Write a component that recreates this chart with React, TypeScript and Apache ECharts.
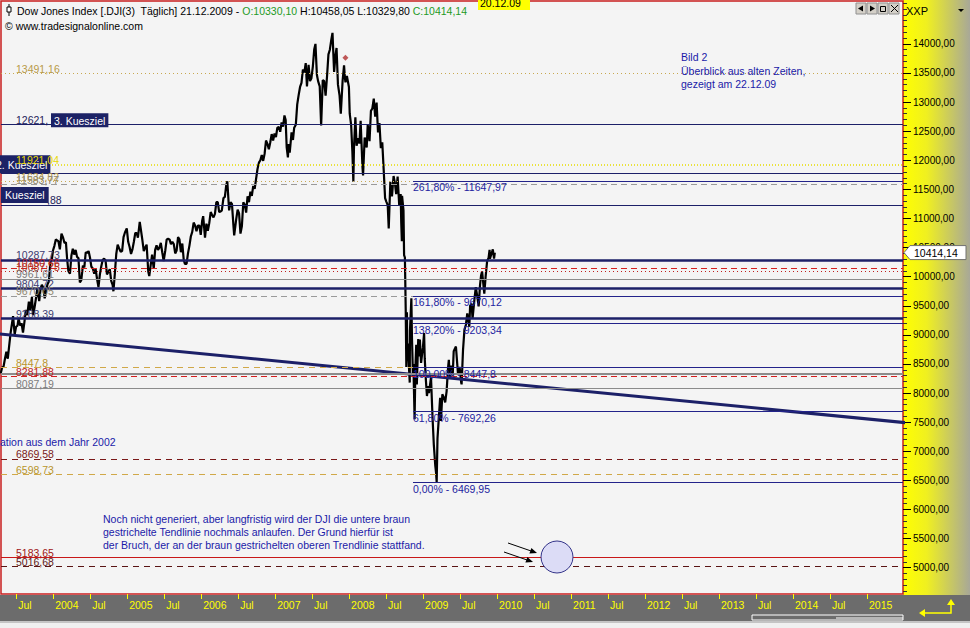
import React, { useEffect, useRef } from "react";
import * as echarts from "echarts";

type P = [string, number];

// ---- price data (Dow Jones, roughly weekly) ----
const dji2003: P[] = [
  ["2003-04-17", 8337], ["2003-04-24", 8440], ["2003-05-01", 8455], ["2003-05-08", 8590], ["2003-05-15", 8710],
  ["2003-05-22", 8590], ["2003-05-30", 8850], ["2003-06-05", 9040], ["2003-06-12", 9200], ["2003-06-17", 9323],
  ["2003-06-25", 9010], ["2003-07-02", 9140], ["2003-07-09", 9160], ["2003-07-14", 9280], ["2003-07-22", 9160],
  ["2003-07-29", 9200], ["2003-08-05", 9040], ["2003-08-12", 9220], ["2003-08-19", 9430], ["2003-08-26", 9340],
  ["2003-09-03", 9570], ["2003-09-09", 9420], ["2003-09-18", 9650], ["2003-09-24", 9340], ["2003-10-01", 9470],
  ["2003-10-08", 9630], ["2003-10-15", 9800], ["2003-10-24", 9580], ["2003-10-31", 9800], ["2003-11-06", 9860],
  ["2003-11-13", 9810], ["2003-11-20", 9630], ["2003-11-28", 9780], ["2003-12-04", 9870], ["2003-12-11", 9920],
  ["2003-12-18", 10250], ["2003-12-26", 10310], ["2003-12-31", 10450],
];
const dji2004: P[] = [
  ["2004-01-07", 10530], ["2004-01-14", 10640], ["2004-01-21", 10620], ["2004-01-27", 10610], ["2004-02-03", 10470],
  ["2004-02-11", 10740], ["2004-02-19", 10670], ["2004-02-26", 10580], ["2004-03-04", 10590], ["2004-03-10", 10300],
  ["2004-03-16", 10100], ["2004-03-24", 10050], ["2004-03-31", 10360], ["2004-04-07", 10480], ["2004-04-14", 10380],
  ["2004-04-21", 10460], ["2004-04-28", 10340], ["2004-05-05", 10320], ["2004-05-12", 9900], ["2004-05-19", 9940],
  ["2004-05-27", 10190], ["2004-06-03", 10160], ["2004-06-10", 10420], ["2004-06-17", 10410], ["2004-06-24", 10440],
  ["2004-07-01", 10330], ["2004-07-08", 10170], ["2004-07-15", 10140], ["2004-07-22", 10050], ["2004-07-29", 10130],
  ["2004-08-05", 9960], ["2004-08-12", 9820], ["2004-08-19", 10040], ["2004-08-26", 10180], ["2004-09-02", 10290],
  ["2004-09-09", 10310], ["2004-09-16", 10280], ["2004-09-23", 10040], ["2004-09-30", 10080], ["2004-10-07", 10130],
  ["2004-10-14", 9930], ["2004-10-21", 9860], ["2004-10-25", 9750], ["2004-11-01", 10050], ["2004-11-08", 10390],
  ["2004-11-15", 10550], ["2004-11-22", 10490], ["2004-11-30", 10430], ["2004-12-07", 10440], ["2004-12-14", 10680],
  ["2004-12-21", 10760], ["2004-12-30", 10830],
];
const dji2005: P[] = [
  ["2005-01-06", 10600], ["2005-01-13", 10510], ["2005-01-20", 10390], ["2005-01-27", 10470], ["2005-02-03", 10600],
  ["2005-02-10", 10750], ["2005-02-17", 10750], ["2005-02-23", 10670], ["2005-03-04", 10940], ["2005-03-10", 10800],
  ["2005-03-17", 10630], ["2005-03-24", 10440], ["2005-03-31", 10500], ["2005-04-07", 10550], ["2005-04-15", 10090],
  ["2005-04-20", 10010], ["2005-04-27", 10200], ["2005-05-04", 10380], ["2005-05-12", 10140], ["2005-05-19", 10460],
  ["2005-05-26", 10540], ["2005-06-02", 10460], ["2005-06-09", 10500], ["2005-06-16", 10580], ["2005-06-23", 10420],
  ["2005-06-30", 10270], ["2005-07-08", 10450], ["2005-07-15", 10640], ["2005-07-22", 10650], ["2005-07-29", 10640],
  ["2005-08-05", 10560], ["2005-08-12", 10600], ["2005-08-19", 10560], ["2005-08-26", 10400], ["2005-09-02", 10450],
  ["2005-09-09", 10680], ["2005-09-16", 10640], ["2005-09-23", 10420], ["2005-09-30", 10570], ["2005-10-07", 10290],
  ["2005-10-13", 10220], ["2005-10-21", 10220], ["2005-10-28", 10400], ["2005-11-04", 10530], ["2005-11-11", 10690],
  ["2005-11-18", 10770], ["2005-11-25", 10930], ["2005-12-02", 10880], ["2005-12-09", 10780], ["2005-12-16", 10880],
  ["2005-12-23", 10880], ["2005-12-30", 10720],
];
const dji2006: P[] = [
  ["2006-01-06", 10960], ["2006-01-11", 11040], ["2006-01-20", 10670], ["2006-01-27", 10910], ["2006-02-03", 10790],
  ["2006-02-10", 10920], ["2006-02-17", 11110], ["2006-02-24", 11060], ["2006-03-03", 11020], ["2006-03-10", 11080],
  ["2006-03-17", 11280], ["2006-03-24", 11280], ["2006-03-31", 11110], ["2006-04-07", 11120], ["2006-04-13", 11140],
  ["2006-04-21", 11350], ["2006-04-28", 11370], ["2006-05-05", 11580], ["2006-05-10", 11640], ["2006-05-19", 11140],
  ["2006-05-26", 11280], ["2006-06-02", 11250], ["2006-06-09", 10890], ["2006-06-13", 10710], ["2006-06-23", 10990],
  ["2006-06-30", 11150], ["2006-07-07", 11090], ["2006-07-14", 10740], ["2006-07-21", 10870], ["2006-07-28", 11280],
  ["2006-08-04", 11240], ["2006-08-11", 11100], ["2006-08-18", 11380], ["2006-08-25", 11280], ["2006-09-01", 11460],
  ["2006-09-08", 11390], ["2006-09-15", 11560], ["2006-09-22", 11510], ["2006-09-29", 11680], ["2006-10-06", 11850],
  ["2006-10-13", 11960], ["2006-10-20", 12000], ["2006-10-27", 12090], ["2006-11-03", 11990], ["2006-11-10", 12110],
  ["2006-11-17", 12340], ["2006-11-24", 12280], ["2006-12-01", 12190], ["2006-12-08", 12310], ["2006-12-15", 12450],
  ["2006-12-22", 12340], ["2006-12-29", 12460],
];
const dji2007: P[] = [
  ["2007-01-05", 12400], ["2007-01-12", 12560], ["2007-01-19", 12570], ["2007-01-26", 12490], ["2007-02-02", 12650],
  ["2007-02-09", 12580], ["2007-02-16", 12770], ["2007-02-22", 12690], ["2007-02-27", 12220], ["2007-03-05", 12050],
  ["2007-03-09", 12280], ["2007-03-14", 12130], ["2007-03-23", 12480], ["2007-03-30", 12350], ["2007-04-05", 12560],
  ["2007-04-13", 12610], ["2007-04-20", 12960], ["2007-04-27", 13120], ["2007-05-04", 13260], ["2007-05-11", 13330],
  ["2007-05-18", 13560], ["2007-05-25", 13510], ["2007-06-01", 13670], ["2007-06-07", 13270], ["2007-06-15", 13640],
  ["2007-06-22", 13360], ["2007-06-29", 13410], ["2007-07-06", 13610], ["2007-07-13", 13910], ["2007-07-19", 14000],
  ["2007-07-26", 13470], ["2007-08-01", 13360], ["2007-08-09", 13270], ["2007-08-16", 12600], ["2007-08-24", 13380],
  ["2007-08-31", 13360], ["2007-09-07", 13110], ["2007-09-14", 13440], ["2007-09-21", 13820], ["2007-09-28", 13900],
  ["2007-10-05", 14070], ["2007-10-11", 14190], ["2007-10-19", 13520], ["2007-10-26", 13810], ["2007-10-31", 13930],
  ["2007-11-07", 13300], ["2007-11-15", 13110], ["2007-11-21", 12800], ["2007-11-30", 13370], ["2007-12-07", 13630],
  ["2007-12-11", 13430], ["2007-12-14", 13340], ["2007-12-21", 13450], ["2007-12-31", 13260],
];
const dji2008: P[] = [
  ["2008-01-04", 12800], ["2008-01-11", 12610], ["2008-01-17", 12160], ["2008-01-22", 11630], ["2008-01-25", 12210],
  ["2008-02-01", 12740], ["2008-02-07", 12250], ["2008-02-14", 12380], ["2008-02-21", 12290], ["2008-02-27", 12680],
  ["2008-03-07", 11890], ["2008-03-10", 11740], ["2008-03-18", 12390], ["2008-03-21", 12360], ["2008-03-28", 12220],
  ["2008-04-02", 12610], ["2008-04-11", 12330], ["2008-04-18", 12850], ["2008-04-25", 12890], ["2008-05-02", 13060],
  ["2008-05-09", 12750], ["2008-05-16", 12990], ["2008-05-23", 12480], ["2008-05-30", 12640], ["2008-06-06", 12210],
  ["2008-06-13", 12310], ["2008-06-20", 11840], ["2008-06-27", 11350], ["2008-07-03", 11290], ["2008-07-10", 11230],
  ["2008-07-15", 10830], ["2008-07-23", 11630], ["2008-07-31", 11380], ["2008-08-08", 11730], ["2008-08-14", 11620],
  ["2008-08-21", 11420], ["2008-08-28", 11720], ["2008-09-05", 11220], ["2008-09-12", 11420], ["2008-09-15", 10920],
  ["2008-09-18", 10610], ["2008-09-19", 11390], ["2008-09-26", 11140], ["2008-09-29", 10370], ["2008-10-03", 10330],
  ["2008-10-07", 9450], ["2008-10-10", 8450], ["2008-10-13", 9390], ["2008-10-15", 8580], ["2008-10-17", 8850],
  ["2008-10-22", 8520], ["2008-10-27", 8180], ["2008-10-28", 9070], ["2008-11-04", 9630], ["2008-11-07", 8940],
  ["2008-11-12", 8280], ["2008-11-14", 8500], ["2008-11-20", 7550], ["2008-11-24", 8440], ["2008-11-28", 8830],
  ["2008-12-01", 8150], ["2008-12-08", 8930], ["2008-12-12", 8630], ["2008-12-16", 8920], ["2008-12-22", 8520],
  ["2008-12-31", 8780],
];
const dji2009: P[] = [
  ["2009-01-06", 9030], ["2009-01-09", 8600], ["2009-01-15", 8210], ["2009-01-20", 7950], ["2009-01-26", 8120],
  ["2009-01-30", 8000], ["2009-02-09", 8270], ["2009-02-17", 7550], ["2009-02-23", 7110], ["2009-03-02", 6760],
  ["2009-03-06", 6630], ["2009-03-09", 6470], ["2009-03-13", 7220], ["2009-03-18", 7490], ["2009-03-26", 7920],
  ["2009-03-30", 7520], ["2009-04-06", 7980], ["2009-04-14", 7920], ["2009-04-20", 7840], ["2009-04-27", 8030],
  ["2009-05-04", 8430], ["2009-05-08", 8570], ["2009-05-13", 8280], ["2009-05-19", 8470], ["2009-05-27", 8300],
  ["2009-06-01", 8720], ["2009-06-12", 8800], ["2009-06-22", 8340], ["2009-06-30", 8450], ["2009-07-08", 8180],
  ["2009-07-10", 8150], ["2009-07-17", 8740], ["2009-07-24", 9090], ["2009-07-31", 9170], ["2009-08-07", 9370],
  ["2009-08-17", 9140], ["2009-08-21", 9500], ["2009-08-28", 9540], ["2009-09-02", 9280], ["2009-09-11", 9600],
  ["2009-09-18", 9820], ["2009-09-25", 9670], ["2009-10-02", 9490], ["2009-10-09", 9860], ["2009-10-14", 10020],
  ["2009-10-19", 10090], ["2009-10-30", 9710], ["2009-11-06", 10020], ["2009-11-13", 10270], ["2009-11-20", 10320],
  ["2009-11-25", 10460], ["2009-11-27", 10310], ["2009-12-04", 10390], ["2009-12-11", 10470], ["2009-12-17", 10310],
  ["2009-12-21", 10414.14],
];

const lastClose = 10414.14;
const lastCloseText = "10414,14";
const signalMarker: P = ["2007-12-14", 13760];

// ---- horizontal levels ----
const levelValues = [13491.16, 12621.0, 11921.04, 11777.0, 11634.82, 11583.77, 11231.88, 10287.73, 10150.66, 10087.75,
  9961.61, 9804.72, 9670.05, 9288.39, 8447.8, 8330.0, 8281.88, 8087.19, 6869.58, 6598.73, 5183.65, 5016.68];
const levelTexts = ["13491,16", "12621,", "11921,04", "", "11634,82", "11583,77", "", "10287,73", "10150,66", "10087,75",
  "9961,61", "9804,72", "9670,05", "9288,39", "8447,8", "", "8281,88", "8087,19", "6869,58", "6598,73", "5183,65", "5016,68"];
const levelKinds = ["goldDot", "navy", "yellowDot", "navy", "goldDot", "grayDash", "navy", "navyThick", "redDash", "redDot",
  "gray", "navyThick", "grayDash", "navyThick", "goldDash", "grayThick", "redDash", "gray", "darkRedDash", "goldDash",
  "redSolid", "darkDash"];

// ---- Fibonacci levels ----
const fibStart = "2008-11-12";
const fibValues = [11647.97, 9670.12, 9203.34, 8447.8, 7692.26, 6469.95];
const fibTexts = ["261,80% - 11647,97", "161,80% - 9670,12", "138,20% - 9203,34", "100,00% - 8447,8", "61,80% - 7692,26", "0,00% - 6469,95"];

// ---- long trend line ----
const trendLine: P[] = [["2003-04-01", 9020], ["2015-07-15", 7490]];

// ---- axes ----
const xTickValues = [2003.5, 2004, 2004.5, 2005, 2005.5, 2006, 2006.5, 2007, 2007.5, 2008, 2008.5, 2009, 2009.5, 2010,
  2010.5, 2011, 2011.5, 2012, 2012.5, 2013, 2013.5, 2014, 2014.5, 2015];
const yLabelValues = [5000, 5500, 6000, 6500, 7000, 7500, 8000, 8500, 9000, 9500, 10000, 10500, 11000, 11500, 12000,
  12500, 13000, 13500, 14000];

// ---- texts ----
const headerParts = ["Dow Jones Index [.DJI(3)  Täglich] 21.12.2009 - ", "O:10330,10", " H:10458,05 L:10329,80 ", "C:10414,14"];
const headerDate = "20.12.09";
const sourceText = "© www.tradesignalonline.com";
const noteTopRight = ["Bild 2", "Überblick aus alten Zeiten,", "gezeigt am 22.12.09"];
const noteBottom = [
  "Noch nicht generiert, aber langfristig wird der DJI die untere braun",
  "gestrichelte Tendlinie nochmals anlaufen. Der Grund hierfür ist",
  "der Bruch, der an der braun gestrichelten oberen Trendlinie stattfand.",
];
const noteLeft = "ation aus dem Jahr 2002";
const boxTexts = ["3. Kuesziel", "2. Kuesziel", "Kuesziel"];
const boxTail = ",88";

const X_MIN = 2003.2945, X_MAX = 2015.487, Y_MIN = 4548, Y_MAX = 14737;
const FONT = '"Liberation Sans", Arial, sans-serif';

const yearFrac = (s: string) => {
  const [y, m, d] = s.split("-").map(Number);
  const t0 = Date.UTC(y, 0, 1), t1 = Date.UTC(y + 1, 0, 1);
  return y + (Date.UTC(y, m - 1, d) - t0) / (t1 - t0);
};

const STYLES: Record<string, { color: string; width: number; type: any; label: string }> = {
  navy: { color: "#1c2068", width: 1, type: "solid", label: "#24245a" },
  navyThick: { color: "#1c2068", width: 2.5, type: "solid", label: "#3c3c72" },
  goldDot: { color: "#c8a850", width: 1, type: [1, 3], label: "#b89a48" },
  yellowDot: { color: "#e6dc00", width: 1.5, type: [1, 2], label: "#e8d800" },
  grayDash: { color: "#9a9a9a", width: 1, type: [6, 4], label: "#8e8670" },
  gray: { color: "#8c8c8c", width: 1, type: "solid", label: "#7c7c7c" },
  grayThick: { color: "#8c8c8c", width: 2, type: "solid", label: "#7c7c7c" },
  redDash: { color: "#d42020", width: 1, type: [6, 4], label: "#c02020" },
  redDot: { color: "#c02020", width: 1, type: [1, 3], label: "#b03020" },
  goldDash: { color: "#d0a848", width: 1, type: [6, 5], label: "#b8942c" },
  darkRedDash: { color: "#7a1818", width: 1, type: [6, 5], label: "#7a1818" },
  redSolid: { color: "#c81818", width: 1, type: "solid", label: "#a01414" },
  darkDash: { color: "#5a1414", width: 1, type: [6, 5], label: "#601818" },
};

export default function App() {
  const ref = useRef<HTMLDivElement>(null);
  useEffect(() => {
    const chart = echarts.init(ref.current!, undefined, { renderer: "svg" });
    const price = [...dji2003, ...dji2004, ...dji2005, ...dji2006, ...dji2007, ...dji2008, ...dji2009].map(
      ([d, v]) => [yearFrac(d), v]
    );
    const fx = yearFrac(fibStart);
    const markData: any[] = [];
    levelValues.forEach((v, i) => {
      const s = STYLES[levelKinds[i]];
      markData.push({ yAxis: v, lineStyle: { color: s.color, width: s.width, type: s.type } });
    });
    fibValues.forEach((v) => {
      markData.push([{ coord: [fx, v], lineStyle: { color: "#23238a", width: 1, type: "solid" } }, { coord: [X_MAX, v] }]);
    });
    const minorTicks: number[] = [];
    for (let v = 4600; v <= 14700; v += 100) minorTicks.push(v);

    chart.setOption({
      animation: false,
      grid: { left: 1, top: 1, right: 67, bottom: 34, show: true, backgroundColor: "#f4f4f4", borderColor: "#c81e1e", borderWidth: 1.5 },
      xAxis: {
        type: "value", min: X_MIN, max: X_MAX, splitLine: { show: false }, axisLine: { show: false },
        axisTick: { show: true, customValues: xTickValues, length: 5, lineStyle: { color: "#ffff00" } },
        axisLabel: {
          customValues: xTickValues, color: "#ffff00", fontSize: 10.5, fontFamily: FONT, align: "left", margin: 5,
          padding: [0, 0, 0, 2], formatter: (v: number) => (Number.isInteger(v) ? String(v) : "Jul"),
        },
      },
      yAxis: [
        {
          type: "value", position: "right", min: Y_MIN, max: Y_MAX, splitLine: { show: false }, axisLine: { show: false },
          axisTick: { show: true, customValues: minorTicks, length: 4, lineStyle: { color: "#333" } },
          axisLabel: {
            customValues: yLabelValues, margin: 10, color: "#000", fontSize: 10, fontFamily: FONT,
            formatter: (v: number) => v.toFixed(2).replace(".", ","),
          },
        },
        {
          type: "value", position: "right", min: Y_MIN, max: Y_MAX, splitLine: { show: false }, axisLine: { show: false },
          axisTick: { show: true, customValues: yLabelValues, length: 8, lineStyle: { color: "#000" } },
          axisLabel: { show: false },
        },
      ],
      series: [
        {
          type: "line", data: price, symbol: "none", lineStyle: { color: "#000", width: 2.2 }, z: 3, clip: true,
        },
        {
          type: "line", data: [[X_MIN, Y_MIN]], symbol: "none", lineStyle: { opacity: 0 }, z: 4,
          markLine: { silent: true, symbol: ["none", "none"], label: { show: false }, data: markData },
        },
        {
          type: "line", data: trendLine.map(([d, v]) => [yearFrac(d), v]), symbol: "none", clip: true, z: 4,
          lineStyle: { color: "#1c2068", width: 3 },
        },
        {
          type: "scatter", data: [[yearFrac(signalMarker[0]), signalMarker[1]]], symbol: "diamond", symbolSize: 6,
          itemStyle: { color: "#b03030" }, z: 5,
        },
      ],
    });

    const ypx = (v: number) => (chart.convertToPixel({ gridIndex: 0 }, [X_MIN, v]) as number[])[1];
    const fxp = (chart.convertToPixel({ gridIndex: 0 }, [fx, Y_MIN]) as number[])[0];
    const txt = (x: number, y: number, text: string, fill: string, va: string, extra: any = {}, z = 30) => ({
      type: "text", x, y, z, silent: true,
      style: { text, fill, font: `10.5px ${FONT}`, align: "left", verticalAlign: va, textAlign: "left", textVerticalAlign: va, ...extra },
    });
    const g: any[] = [];
    // backgrounds
    g.push({
      type: "rect", z: -5, silent: true, shape: { x: 903, y: 0, width: 67, height: 595 },
      style: { fill: new echarts.graphic.LinearGradient(0, 0, 1, 0, [
        { offset: 0, color: "#ffff00" }, { offset: 0.35, color: "#f0f020" }, { offset: 1, color: "#a8a898" }]) },
    });
    g.push({ type: "rect", z: -5, silent: true, shape: { x: 0, y: 595, width: 970, height: 26 }, style: { fill: "#6c6c6c" } });
    g.push({ type: "rect", z: -5, silent: true, shape: { x: 0, y: 621, width: 970, height: 2 }, style: { fill: "#c4c4c4" } });
    g.push({ type: "rect", z: -5, silent: true, shape: { x: 0, y: 623, width: 970, height: 5 }, style: { fill: "#f0f0f0" } });
    g.push({ type: "rect", z: 1, silent: true, shape: { x: 752, y: 615, width: 151, height: 5 }, style: { fill: "none", stroke: "#fff", lineWidth: 1 } });
    g.push({ type: "line", z: 1, silent: true, shape: { x1: 836, y1: 618, x2: 903, y2: 618 }, style: { stroke: "#fff", lineWidth: 1 } });
    // return arrow
    g.push({ type: "polyline", z: 1, silent: true, shape: { points: [[923, 613], [951, 613], [951, 603]] }, style: { stroke: "#ffff00", lineWidth: 1.5, fill: "none" } });
    g.push({ type: "polygon", z: 1, silent: true, shape: { points: [[947, 605], [951, 599], [955, 605]] }, style: { fill: "#ffff00" } });
    g.push({ type: "polygon", z: 1, silent: true, shape: { points: [[925, 609], [919, 613], [925, 617]] }, style: { fill: "#ffff00" } });

    // boxes (under the level labels)
    g.push(txt(51, ypx(12621.0) + 3, boxTexts[0], "#ffffff", "bottom", { backgroundColor: "#1c2266", padding: [2, 3, 1, 3] }, 28));
    g.push(txt(-7, ypx(11777.0), boxTexts[1], "#ffffff", "bottom", { backgroundColor: "#1c2266", padding: [4, 3, 3, 3] }, 28));
    g.push(txt(1, ypx(11231.88) - 2, boxTexts[2], "#ffffff", "bottom", { backgroundColor: "#1c2266", padding: [3, 4, 2, 4] }, 28));
    g.push(txt(47, ypx(11231.88) + 1, boxTail, "#24245a", "bottom"));
    // level labels
    levelValues.forEach((v, i) => {
      if (!levelTexts[i]) return;
      g.push(txt(16, ypx(v) + 1, levelTexts[i], STYLES[levelKinds[i]].label, "bottom"));
    });
    // fib labels
    fibValues.forEach((v, i) => g.push(txt(fxp, ypx(v) + 1, fibTexts[i], "#2323a0", "top")));
    // price tag
    const py = ypx(lastClose);
    g.push({ type: "polygon", z: 30, silent: true, shape: { points: [[904, py], [910, py - 7], [966, py - 7], [966, py + 7], [910, py + 7]] }, style: { fill: "#ffffff", stroke: "#707070", lineWidth: 1 } });
    g.push(txt(914, py, lastCloseText, "#000", "middle", {}, 31));
    // header
    g.push({ type: "line", z: 30, silent: true, shape: { x1: 9, y1: 4, x2: 9, y2: 16 }, style: { stroke: "#000", lineWidth: 1 } });
    g.push({ type: "rect", z: 31, silent: true, shape: { x: 7, y: 7, width: 4, height: 5 }, style: { fill: "#fff", stroke: "#000", lineWidth: 1 } });
    g.push({
      type: "text", x: 17, y: 11, z: 30, silent: true,
      style: {
        text: `{k|${headerParts[0]}}{g|${headerParts[1]}}{k|${headerParts[2]}}{g|${headerParts[3]}}`,
        font: `10.5px ${FONT}`, verticalAlign: "middle", textVerticalAlign: "middle",
        rich: { k: { fill: "#000", font: `10.5px ${FONT}` }, g: { fill: "#1e9a1e", font: `10.5px ${FONT}` } },
      },
    });
    g.push({ type: "rect", z: 29, silent: true, shape: { x: 478, y: 0, width: 52, height: 10 }, style: { fill: "#ffff00" } });
    g.push(txt(480, 3, headerDate, "#000", "middle"));
    g.push(txt(5, 26, sourceText, "#000", "middle"));
    // top right buttons
    [856, 867, 878, 889].forEach((bx) => g.push({ type: "rect", z: 30, silent: true, shape: { x: bx, y: 3, width: 10, height: 11 }, style: { fill: "#d4d0c8", stroke: "#909090", lineWidth: 1 } }));
    g.push({ type: "polygon", z: 31, silent: true, shape: { points: [[858, 8.5], [863, 5.5], [863, 11.5]] }, style: { fill: "#000" } });
    g.push({ type: "polygon", z: 31, silent: true, shape: { points: [[875, 8.5], [870, 5.5], [870, 11.5]] }, style: { fill: "#000" } });
    g.push({ type: "rect", z: 31, silent: true, shape: { x: 880.5, y: 6.5, width: 5, height: 5 }, style: { fill: "none", stroke: "#000", lineWidth: 1 } });
    g.push({ type: "line", z: 31, silent: true, shape: { x1: 891, y1: 5, x2: 898, y2: 12 }, style: { stroke: "#000", lineWidth: 1 } });
    g.push({ type: "line", z: 31, silent: true, shape: { x1: 898, y1: 5, x2: 891, y2: 12 }, style: { stroke: "#000", lineWidth: 1 } });
    g.push({ type: "text", x: 906, y: 11, z: 30, silent: true, style: { text: "XXP", fill: "#000", font: `11px ${FONT}`, verticalAlign: "middle", textVerticalAlign: "middle" } });
    g.push({ type: "polygon", z: 30, silent: true, shape: { points: [[958, 9], [964, 9], [961, 12]] }, style: { fill: "#000" } });
    // notes
    noteTopRight.forEach((t, i) => g.push(txt(681, 57 + i * 13.6, t, "#1a1aa8", "middle")));
    noteBottom.forEach((t, i) => g.push(txt(103, 519 + i * 13, t, "#1a1aa8", "middle")));
    g.push(txt(0, 442, noteLeft, "#1a1aa8", "middle"));
    // arrows and circle
    g.push({ type: "line", z: 30, silent: true, shape: { x1: 508, y1: 543, x2: 532, y2: 551.3 }, style: { stroke: "#000", lineWidth: 1 } });
    g.push({ type: "polygon", z: 30, silent: true, shape: { points: [[537, 553], [529.4, 553.5], [531.4, 547.9]] }, style: { fill: "#000" } });
    g.push({ type: "line", z: 30, silent: true, shape: { x1: 504, y1: 552, x2: 528, y2: 560.3 }, style: { stroke: "#000", lineWidth: 1 } });
    g.push({ type: "polygon", z: 30, silent: true, shape: { points: [[533, 562], [525.4, 562.5], [527.4, 556.9]] }, style: { fill: "#000" } });
    g.push({ type: "circle", z: 30, silent: true, shape: { cx: 557, cy: 557, r: 16 }, style: { fill: "#dcdcf6", stroke: "#34348a", lineWidth: 1 } });

    chart.setOption({ graphic: g });
    return () => chart.dispose();
  }, []);
  return (
    <div
      ref={ref}
      style={{ position: "fixed", left: 0, top: 0, width: 970, height: 628, background: "#f4f4f4" }}
    />
  );
}
